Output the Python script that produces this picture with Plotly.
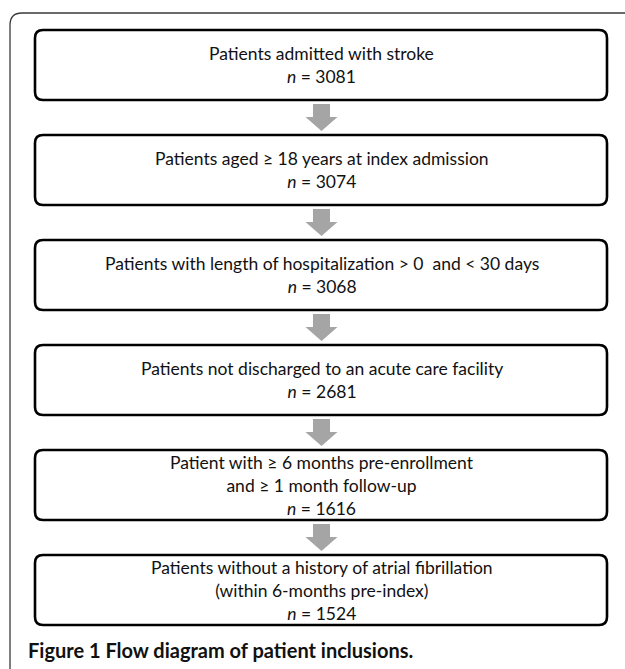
import plotly.graph_objects as go

# ---- data ----
step_labels = [
    "Patients admitted with stroke",
    "Patients aged ≥ 18 years at index admission",
    "Patients with length of hospitalization > 0 &nbsp;and < 30 days",
    "Patients not discharged to an acute care facility",
    "Patient with ≥ 6 months pre-enrollment<br>and ≥ 1 month follow-up",
    "Patients without a history of atrial fibrillation<br>(within 6-months pre-index)",
]
step_n = [3081, 3074, 3068, 2681, 1616, 1524]
caption = "Figure 1 Flow diagram of patient inclusions."

W, H = 625, 669
FONT = "Lato"

# layout geometry (pixels)
box_x0, box_x1 = 35, 607
box_top0, box_h, box_step = 30, 70, 105
r = 8
cx = (box_x0 + box_x1) / 2 + 0.5

def rrect(x0, y0, x1, y1, r):
    return (f"M{x0+r},{y0} L{x1-r},{y0} Q{x1},{y0} {x1},{y0+r} "
            f"L{x1},{y1-r} Q{x1},{y1} {x1-r},{y1} L{x0+r},{y1} "
            f"Q{x0},{y1} {x0},{y1-r} L{x0},{y0+r} Q{x0},{y0} {x0+r},{y0} Z")

shapes = []
annotations = []

# outer frame (open to the right and bottom)
shapes.append(dict(type="path", xref="x", yref="y",
                   path=f"M10,{H+5} L10,25 Q10,13 22,13 L{W+5},13",
                   line=dict(color="#3a3a3a", width=1.3)))

for i, (lab, n) in enumerate(zip(step_labels, step_n)):
    y0 = box_top0 + i * box_step
    y1 = y0 + box_h
    shapes.append(dict(type="path", xref="x", yref="y",
                       path=rrect(box_x0, y0, box_x1, y1, r),
                       line=dict(color="black", width=2.6),
                       fillcolor="white"))
    annotations.append(dict(x=cx, y=(y0 + y1) / 2, xref="x", yref="y",
                            text=f"{lab}<br><i>n</i> = {n}",
                            showarrow=False, align="center",
                            xanchor="center", yanchor="middle",
                            font=dict(family=FONT, size=17.5, color="#111111")))
    if i < len(step_labels) - 1:
        a0 = y1 + 4
        a1 = y1 + box_step - box_h - 4
        hs = a0 + 13
        sw, hw = 8.5, 16
        shapes.append(dict(type="path", xref="x", yref="y",
                           path=(f"M{cx-sw},{a0} L{cx+sw},{a0} L{cx+sw},{hs} "
                                 f"L{cx+hw},{hs} L{cx},{a1} L{cx-hw},{hs} "
                                 f"L{cx-sw},{hs} Z"),
                           line=dict(width=0), fillcolor="#a5a5a5"))

annotations.append(dict(x=26, y=650, xref="x", yref="y", text=f"<b>{caption}</b>",
                        showarrow=False, xanchor="left", yanchor="middle",
                        font=dict(family=FONT, size=20, color="#111111")))

fig = go.Figure()
fig.update_layout(
    width=W, height=H,
    margin=dict(l=0, r=0, t=0, b=0),
    paper_bgcolor="white", plot_bgcolor="white",
    xaxis=dict(range=[0, W], visible=False, fixedrange=True),
    yaxis=dict(range=[H, 0], visible=False, fixedrange=True),
    shapes=shapes, annotations=annotations, showlegend=False,
)
fig.write_html("out.html", config={"displayModeBar": False},
               post_script="document.body.style.margin='0';document.body.style.overflow='hidden';")
